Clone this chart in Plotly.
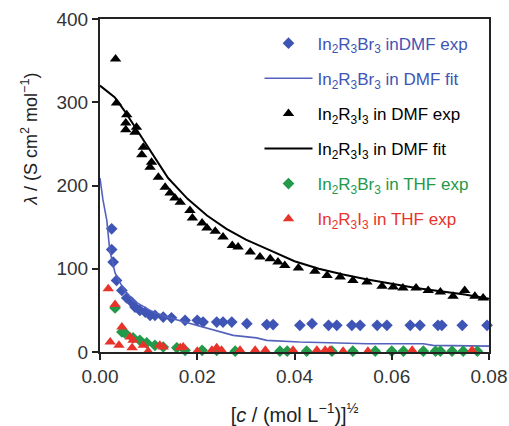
import plotly.graph_objects as go

# In2R3Br3 in DMF exp (blue diamonds)
br_dmf_x = [0.0024, 0.0024, 0.0027, 0.0034, 0.0045, 0.0055, 0.0065, 0.0072, 0.0082, 0.0093,
            0.0103, 0.0113, 0.0130, 0.0147, 0.0175, 0.0200, 0.0212, 0.0240, 0.0253, 0.0271,
            0.0302, 0.0343, 0.0356, 0.0411, 0.0436, 0.0470, 0.0487, 0.0518, 0.0535, 0.0570,
            0.0590, 0.0638, 0.0658, 0.0695, 0.0703, 0.0745, 0.0796]
br_dmf_y = [148, 123, 108, 86, 74, 65, 60, 54, 50, 48,
            44, 44, 42, 41, 38, 38, 36, 36, 36, 36,
            34, 33, 33, 32, 34, 32, 32, 32, 32, 32,
            32, 32, 32, 32, 32, 32, 32]

# In2R3Br3 in DMF fit (blue line)
br_fit_x = [0.0, 0.0006, 0.0014, 0.0020, 0.0031, 0.0047, 0.0068, 0.0103, 0.0137, 0.0180,
            0.0233, 0.0274, 0.0322, 0.0343, 0.0410, 0.0480, 0.0550, 0.0620, 0.0665, 0.0685, 0.0800]
br_fit_y = [209, 183, 158, 122, 95, 77, 62, 50, 42, 35,
            26, 20, 17, 14, 12, 11, 10, 10, 10, 8, 7]

# In2R3I3 in DMF exp (black triangles)
i_dmf_x = [0.0032, 0.0034, 0.0055, 0.0053, 0.0053, 0.0075, 0.0072, 0.0089, 0.0086, 0.0106,
           0.0103, 0.0120, 0.0134, 0.0144, 0.0154, 0.0165, 0.0185, 0.0190, 0.0210, 0.0220,
           0.0237, 0.0253, 0.0272, 0.0284, 0.0309, 0.0329, 0.0350, 0.0366, 0.0380, 0.0408,
           0.0442, 0.0467, 0.0494, 0.0520, 0.0549, 0.0580, 0.0603, 0.0623, 0.0650, 0.0675,
           0.0700, 0.0726, 0.0750, 0.0771, 0.0788]
i_dmf_y = [352, 299, 285, 275, 267, 270, 264, 246, 237, 228,
           222, 210, 198, 191, 185, 180, 170, 161, 155, 149,
           145, 138, 128, 126, 120, 114, 112, 108, 104, 101,
           97, 92, 90, 86, 84, 79, 78, 77, 77, 74,
           72, 67, 74, 67, 65]

# In2R3I3 in DMF fit (black line)
i_fit_x = [0.000, 0.003, 0.005, 0.008, 0.010, 0.014, 0.018, 0.022, 0.026, 0.030,
           0.035, 0.040, 0.045, 0.050, 0.055, 0.060, 0.065, 0.070, 0.075, 0.080]
i_fit_y = [320, 306, 290, 263, 244, 209, 184, 164, 148, 135,
           122, 109, 100, 93, 87, 82, 77, 73, 69, 64]

# In2R3Br3 in THF exp (green diamonds)
br_thf_x = [0.0031, 0.0045, 0.0051, 0.0068, 0.0082, 0.0096, 0.0113, 0.0130, 0.0158, 0.0175,
            0.0210, 0.0240, 0.0278, 0.0370, 0.0385, 0.0425, 0.0477, 0.0520, 0.0566, 0.0600,
            0.0624, 0.0665, 0.0690, 0.0700, 0.0724, 0.0747, 0.0776]
br_thf_y = [53, 24, 23, 17, 14, 11, 8, 6, 5, 2,
            2, 2, 1, 1, 1, 1, 1, 1, 1, 1,
            1, 1, 1, 1, 1, 1, 1]

# In2R3I3 in THF exp (red triangles)
i_thf_x = [0.0017, 0.0031, 0.0045, 0.0021, 0.0039, 0.0062, 0.0068, 0.0066, 0.0089, 0.0099,
           0.0123, 0.0130, 0.0165, 0.0171, 0.0200, 0.0230, 0.0240, 0.0250, 0.0288, 0.0319,
           0.0340, 0.0397, 0.0446, 0.0463, 0.0473, 0.0500, 0.0551, 0.0642, 0.0765]
i_thf_y = [76, 57, 30, 12, 8, 18, 14, 5, 8, 1,
           8, 6, 5, 6, 1, 2, 5, 2, 2, 2,
           2, 2, 2, 2, 2, 1, 1, 2, 2]

BLUE = "#3f55b5"
BLUE_LINE = "#5462bd"
GREEN = "#23994a"
RED = "#e8332b"
FONT = "Liberation Sans, Arial, sans-serif"

def lbl(text, color):
    return f'<span style="color:{color}">{text}</span>'

fig = go.Figure()
fig.add_trace(go.Scatter(x=br_dmf_x, y=br_dmf_y, mode="markers", cliponaxis=False,
                         marker=dict(symbol="diamond", size=9, color=BLUE),
                         name=lbl("In<sub>2</sub>R<sub>3</sub>Br<sub>3</sub> inDMF exp", BLUE), legendgroup="a"))
fig.add_trace(go.Scatter(x=br_fit_x, y=br_fit_y, mode="lines", line=dict(color=BLUE_LINE, width=1.6),
                         name=lbl("In<sub>2</sub>R<sub>3</sub>Br<sub>3</sub> in DMF fit", BLUE), legendgroup="b"))
fig.add_trace(go.Scatter(x=i_dmf_x, y=i_dmf_y, mode="markers", cliponaxis=False,
                         marker=dict(symbol="triangle-up", size=10, color="black"),
                         name=lbl("In<sub>2</sub>R<sub>3</sub>I<sub>3</sub> in DMF exp", "black"), legendgroup="c"))
fig.add_trace(go.Scatter(x=i_fit_x, y=i_fit_y, mode="lines", line=dict(color="black", width=2),
                         name=lbl("In<sub>2</sub>R<sub>3</sub>I<sub>3</sub> in DMF fit", "black"), legendgroup="d"))
fig.add_trace(go.Scatter(x=br_thf_x, y=br_thf_y, mode="markers", cliponaxis=False,
                         marker=dict(symbol="diamond", size=9, color=GREEN),
                         name=lbl("In<sub>2</sub>R<sub>3</sub>Br<sub>3</sub> in THF exp", GREEN), legendgroup="e"))
fig.add_trace(go.Scatter(x=i_thf_x, y=i_thf_y, mode="markers", cliponaxis=False,
                         marker=dict(symbol="triangle-up", size=10, color=RED),
                         name=lbl("In<sub>2</sub>R<sub>3</sub>I<sub>3</sub> in THF exp", RED), legendgroup="f"))

axis_common = dict(showline=True, linecolor="#222", linewidth=2, mirror=True,
                   ticks="outside", ticklen=6, tickwidth=2, tickcolor="#222",
                   showgrid=False, zeroline=False, automargin=False,
                   tickfont=dict(family=FONT, size=19, color="#333"))

fig.update_layout(
    width=509, height=426,
    margin=dict(l=100, r=20, t=19, b=74),
    paper_bgcolor="white", plot_bgcolor="white",
    font=dict(family=FONT, color="#222"),
    xaxis=dict(range=[0, 0.08], tickvals=[0, 0.02, 0.04, 0.06, 0.08],
               ticktext=["0.00", "0.02", "0.04", "0.06", "0.08"],
               title=dict(text="[<i>c</i> / (mol L<sup>−1</sup>)]<sup>½</sup>",
                          font=dict(family=FONT, size=20, color="#222"), standoff=22),
               **axis_common),
    yaxis=dict(range=[0, 400], tickvals=[0, 100, 200, 300, 400], **axis_common),
    legend=dict(x=0.41, y=0.98, xanchor="left", yanchor="top",
                bgcolor="rgba(0,0,0,0)", font=dict(family=FONT, size=17),
                tracegroupgap=10, itemwidth=48),
    showlegend=True,
    annotations=[dict(text="<i>λ</i> / (S cm<sup>2</sup> mol<sup>−1</sup>)",
                      xref="paper", yref="paper", x=-0.18, y=0.64,
                      xanchor="center", yanchor="middle", textangle=-90, showarrow=False,
                      font=dict(family=FONT, size=18, color="#222"))],
)

fig.write_html("out.html")
